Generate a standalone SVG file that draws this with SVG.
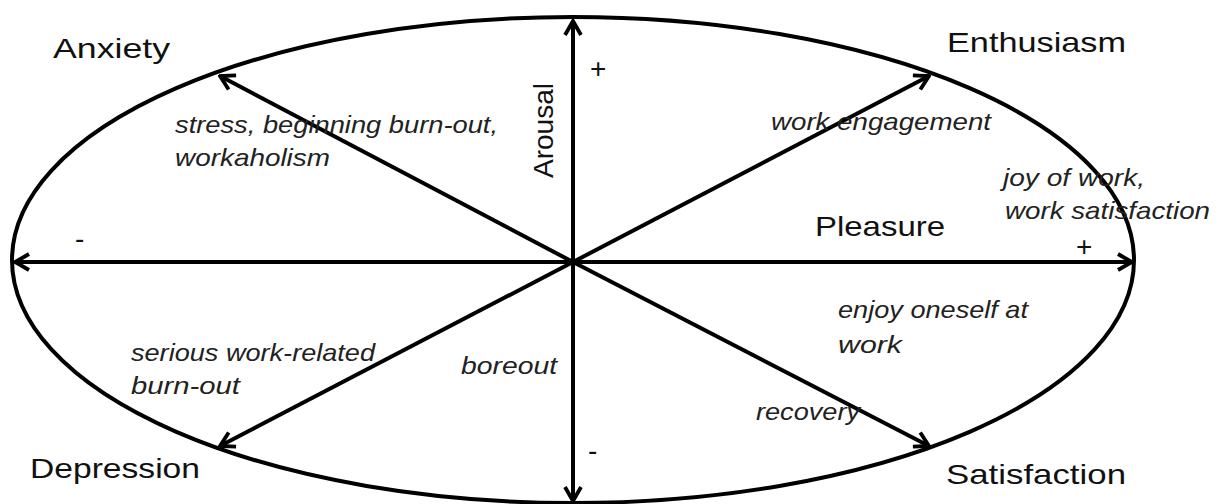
<svg xmlns="http://www.w3.org/2000/svg" width="1227" height="504" viewBox="0 0 1227 504">
<style>
.big{font-family:"Liberation Sans",Arial,sans-serif;font-size:28px;fill:#111}
.it{font-family:"Liberation Sans",Arial,sans-serif;font-size:24px;font-style:italic;fill:#222}
.ln{stroke:#000;stroke-width:4;fill:none}
</style>
<defs>
<marker id="ah" viewBox="0 0 20 20" refX="18" refY="10" markerWidth="20" markerHeight="20" markerUnits="userSpaceOnUse" orient="auto-start-reverse">
<path d="M4 2 L18 10 L4 18" fill="none" stroke="#000" stroke-width="3.8"/>
</marker>
</defs>
<rect width="1227" height="504" fill="#fff"/>
<g id="ellipse"><ellipse cx="573" cy="260" rx="561" ry="243" class="ln"/></g>
<g id="connectors">
<line x1="15" y1="262" x2="1132" y2="262" class="ln" marker-start="url(#ah)" marker-end="url(#ah)"/>
<line x1="573" y1="21" x2="573" y2="501" class="ln" marker-start="url(#ah)" marker-end="url(#ah)"/>
<line x1="573" y1="262" x2="220" y2="76" class="ln" marker-end="url(#ah)"/>
<line x1="573" y1="262" x2="929" y2="76" class="ln" marker-end="url(#ah)"/>
<line x1="573" y1="262" x2="220" y2="446" class="ln" marker-end="url(#ah)"/>
<line x1="573" y1="262" x2="929" y2="446" class="ln" marker-end="url(#ah)"/>
</g>
<g id="anxiety"><text class="big" x="53" y="58" textLength="117" lengthAdjust="spacingAndGlyphs">Anxiety</text></g>
<g id="enthusiasm"><text class="big" x="947" y="52" textLength="179" lengthAdjust="spacingAndGlyphs">Enthusiasm</text></g>
<g id="depression"><text class="big" x="30" y="478" textLength="170" lengthAdjust="spacingAndGlyphs">Depression</text></g>
<g id="satisfaction"><text class="big" x="946" y="484" textLength="180" lengthAdjust="spacingAndGlyphs">Satisfaction</text></g>
<g id="arousal"><text class="big" transform="translate(553,178) rotate(-90)" x="0" y="0" textLength="95" lengthAdjust="spacingAndGlyphs">Arousal</text></g>
<g id="pleasure"><text class="big" x="815" y="236" textLength="130" lengthAdjust="spacingAndGlyphs">Pleasure</text></g>
<g id="signs">
<text class="big" x="590" y="78">+</text>
<text class="big" x="75" y="248">-</text>
<text class="big" x="1076" y="256">+</text>
<text class="big" x="588" y="460">-</text>
</g>
<g id="labels">
<text class="it" x="175" y="133" textLength="323" lengthAdjust="spacingAndGlyphs">stress, beginning burn-out,</text>
<text class="it" x="175" y="166" textLength="155" lengthAdjust="spacingAndGlyphs">workaholism</text>
<text class="it" x="771" y="130" textLength="220" lengthAdjust="spacingAndGlyphs">work engagement</text>
<text class="it" x="1003" y="186" textLength="142" lengthAdjust="spacingAndGlyphs">joy of work,</text>
<text class="it" x="1005" y="219" textLength="205" lengthAdjust="spacingAndGlyphs">work satisfaction</text>
<text class="it" x="838" y="318" textLength="190" lengthAdjust="spacingAndGlyphs">enjoy oneself at</text>
<text class="it" x="838" y="353" textLength="64" lengthAdjust="spacingAndGlyphs">work</text>
<text class="it" x="131" y="361" textLength="244" lengthAdjust="spacingAndGlyphs">serious work-related</text>
<text class="it" x="131" y="394" textLength="109" lengthAdjust="spacingAndGlyphs">burn-out</text>
<text class="it" x="461" y="374" textLength="96" lengthAdjust="spacingAndGlyphs">boreout</text>
<text class="it" x="756" y="420" textLength="104" lengthAdjust="spacingAndGlyphs">recovery</text>
</g>
</svg>
